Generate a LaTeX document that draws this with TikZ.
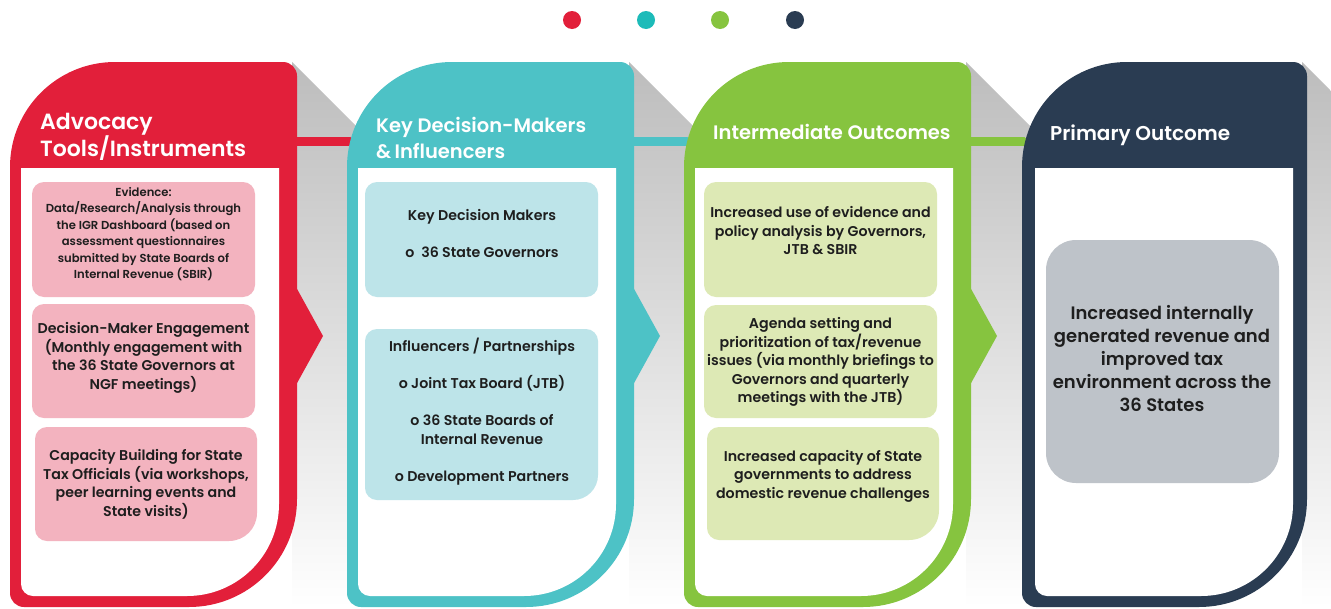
\documentclass[tikz,border=0pt]{standalone}
\usepackage{fontspec}
\setmainfont{Poppins}
\newfontfamily\headfont{Poppins SemiBold}
\newfontfamily\bodyfont{Poppins SemiBold}
\usetikzlibrary{arrows.meta}
\definecolor{cred}{HTML}{E21F3A}
\definecolor{cteal}{HTML}{4DC2C6}
\definecolor{cgreen}{HTML}{86C43F}
\definecolor{cnavy}{HTML}{2A3C52}
\definecolor{dteal}{HTML}{1DBBB9}
\definecolor{bpink}{HTML}{F3B3BF}
\definecolor{bteal}{HTML}{BDE4E9}
\definecolor{bgreen}{HTML}{DDE9B5}
\definecolor{bgrey}{HTML}{BEC3C9}
\definecolor{txt}{HTML}{1E1E1E}
% x0 y0 x1 y1 tl tr br bl style
\newcommand\panelshape[9]{%
\fill[#9] (#1,#2+#5) .. controls (#1,#2+0.448*#5) and (#1+0.448*#5,#2) .. (#1+#5,#2)
 -- (#3-#6,#2) .. controls (#3-0.448*#6,#2) and (#3,#2+0.448*#6) .. (#3,#2+#6)
 -- (#3,#4-#7) .. controls (#3,#4-0.448*#7) and (#3-0.448*#7,#4) .. (#3-#7,#4)
 -- (#1+#8,#4) .. controls (#1+0.448*#8,#4) and (#1,#4-0.448*#8) .. (#1,#4-#8) -- cycle;}
\begin{document}
\begin{tikzpicture}[x=1pt,y=-1pt,
  head/.style={anchor=west,inner sep=0pt,text=white,align=left,
    font=\headfont\fontsize{19.5}{26}\selectfont},
  body/.style={inner sep=0pt,text=txt,align=center,
    font=\bodyfont\fontsize{14.2}{18.5}\selectfont},
  small/.style={body,font=\bodyfont\fontsize{11.6}{16.4}\selectfont},
  big/.style={body,font=\bodyfont\fontsize{18}{23}\selectfont},
  bar/.style={line width=9pt,-{Triangle[length=6pt,width=9pt]}},
  shadow/.style={top color=black!26,bottom color=white}]
\useasboundingbox (0,0) rectangle (1331,608);
\fill[white] (0,0) rectangle (1331,608);

% dots
\fill[cred] (572,20) circle[radius=9];
\fill[dteal] (646,20) circle[radius=9];
\fill[cgreen] (720,20) circle[radius=9];
\fill[cnavy] (795,20) circle[radius=9];

% shadows
\foreach \s in {292,629,966,1302}{
  \shade[shadow] (\s,62) -- (\s+75,137) -- (\s+75,608) -- (\s,608) -- cycle;}

% connectors
\coordinate (r1) at (297,141.5); \coordinate (t1) at (356,141.5);
\coordinate (r2) at (634,141.5); \coordinate (t2) at (693,141.5);
\coordinate (r3) at (971,141.5); \coordinate (t3) at (1030,141.5);
\draw[bar,cred] (r1) -- (t1);
\draw[bar,cteal] (r2) -- (t2);
\draw[bar,cgreen] (r3) -- (t3);
\fill[cred] (296,287) -- (323,336) -- (296,385) -- cycle;
\fill[cteal] (633,287) -- (660,336) -- (633,385) -- cycle;
\fill[cgreen] (970,287) -- (997,336) -- (970,385) -- cycle;

% panels
\panelshape{10}{62}{297}{607}{105}{14}{108}{14}{cred}
\panelshape{21}{168}{279}{596}{0}{0}{92}{12}{white}
\panelshape{347}{62}{634}{607}{105}{14}{108}{14}{cteal}
\panelshape{358}{168}{616}{596}{0}{0}{92}{12}{white}
\panelshape{684}{62}{971}{607}{105}{14}{108}{14}{cgreen}
\panelshape{695}{168}{953}{596}{0}{0}{92}{12}{white}
\panelshape{1022}{62}{1307}{607}{105}{14}{108}{14}{cnavy}
\panelshape{1035}{168}{1293}{596}{0}{0}{92}{12}{white}

% headers
\node[head,font=\headfont\fontsize{22}{26}\selectfont] (h1) at (40,137) {Advocacy\\Tools/Instruments};
\node[head] (h2) at (376,138) {Key Decision-Makers\\\&\,Influencers};
\node[head] (h3) at (713,132) {Intermediate Outcomes};
\node[head,font=\headfont\fontsize{20}{26}\selectfont] (h4) at (1050,135) {Primary Outcome};

% boxes red
\panelshape{32}{182}{255}{297}{12}{12}{12}{12}{bpink}
\panelshape{32}{304}{255}{418}{12}{12}{12}{12}{bpink}
\panelshape{35}{427}{257}{541}{12}{12}{28}{12}{bpink}
\node[small] (a1) at (143.5,234) {Evidence:\\Data/Research/Analysis through\\the IGR Dashboard (based on\\assessment questionnaires\\submitted by State Boards of\\Internal Revenue (SBIR)};
\node[body] (a2) at (143.5,358) {Decision-Maker Engagement\\(Monthly engagement with\\the 36 State Governors at\\NGF meetings)};
\node[body] (a3) at (146,484.5) {Capacity Building for State\\Tax Officials (via workshops,\\peer learning events and\\State visits)};

% boxes teal
\panelshape{365}{182}{598}{297}{12}{12}{12}{12}{bteal}
\panelshape{365}{329}{598}{500}{12}{12}{25}{12}{bteal}
\node[body] (b1) at (482,233.5) {Key Decision Makers\\[18.5pt]o\ \ 36 State Governors};
\node[body] (b2) at (482,412) {Influencers / Partnerships\\[18pt]o Joint Tax Board (JTB)\\[19pt]o 36 State Boards of\\Internal Revenue\\[19pt]o Development Partners};

% boxes green
\panelshape{704}{182}{937}{297}{12}{12}{12}{12}{bgreen}
\panelshape{704}{305}{937}{418}{12}{12}{12}{12}{bgreen}
\panelshape{707}{427}{939}{540}{12}{12}{30}{12}{bgreen}
\node[body] (c1) at (820.5,231) {Increased use of evidence and\\policy analysis by Governors,\\JTB \& SBIR};
\node[body] (c2) at (820.5,362) {Agenda setting and\\prioritization of tax/revenue\\issues (via monthly briefings to\\Governors and quarterly\\meetings with the JTB)};
\node[body] (c3) at (823,476) {Increased capacity of State\\governments to address\\domestic revenue challenges};

% box navy
\panelshape{1046}{240}{1279}{483}{30}{30}{30}{30}{bgrey}
\node[big] (d1) at (1162,359) {Increased internally\\generated revenue and\\improved tax\\environment across the\\36 States};
\end{tikzpicture}
\end{document}
